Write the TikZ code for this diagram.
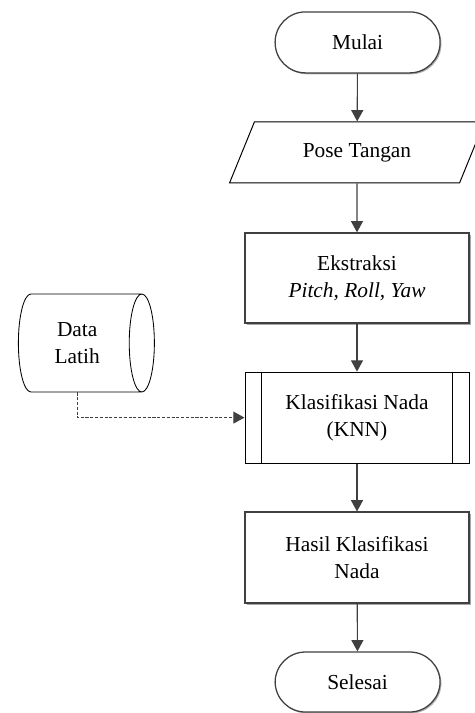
\documentclass[tikz,border=0pt]{standalone}
\usepackage{fontspec}
\setmainfont{Liberation Serif}
\usetikzlibrary{shapes.geometric,arrows.meta,shadows}

\tikzset{
    terminal/.style={draw=black!75, line width=0.9pt, fill=white, rounded corners=0.76cm,
        minimum width=4.125cm, minimum height=1.525cm,
        drop shadow={shadow xshift=1pt, shadow yshift=-1pt, fill=black!30, opacity=1}},
    prosesbox/.style={draw=black!75, line width=0.9pt, fill=white,
        minimum width=5.6cm, minimum height=2.25cm, align=center,
        drop shadow={shadow xshift=1.2pt, shadow yshift=-1.2pt, fill=black!35, opacity=1}},
    iobox/.style={draw, line width=0.7pt, trapezium, trapezium left angle=63,
        trapezium right angle=117, trapezium stretches=true,
        minimum width=6.375cm, minimum height=1.525cm},
    subproses/.style={draw, line width=0.7pt, minimum width=5.6cm,
        minimum height=2.275cm, align=center},
    datastore/.style={draw, line width=0.6pt, cylinder, aspect=0.5,
        minimum width=2.45cm, minimum height=3.4cm, align=center},
    panah/.style={draw=black!75, line width=0.8pt, -{Triangle[length=8pt,width=8.5pt]}},
    panahputus/.style={panah, line width=0.9pt, dash pattern=on 2.2pt off 1.2pt}
}

\begin{document}
\begin{tikzpicture}[font=\fontsize{15.2}{19}\selectfont]
    \useasboundingbox (0,0) rectangle (11.875,-17.825);

    \node[terminal] (mulai) at (8.94,-1.06) {Mulai};
    \node[iobox] (pose) at (8.925,-3.81) {Pose Tangan};
    \node[prosesbox] (ekstraksi) at (8.925,-6.95) {Ekstraksi\\\textit{Pitch, Roll, Yaw}};
    \node[subproses] (klasifikasi) at (8.925,-10.44) {Klasifikasi Nada\\(KNN)};
    \draw[line width=0.7pt] ([xshift=0.425cm]klasifikasi.north west) -- ([xshift=0.425cm]klasifikasi.south west);
    \draw[line width=0.7pt] ([xshift=-0.425cm]klasifikasi.north east) -- ([xshift=-0.425cm]klasifikasi.south east);
    \node[prosesbox, minimum height=2.275cm] (hasil) at (8.925,-13.94) {Hasil Klasifikasi\\Nada};
    \node[terminal, minimum height=1.5cm] (selesai) at (8.94,-17.05) {Selesai};

    \node[datastore] (data) at (1.93,-8.575) {Data\\Latih};

    \draw[panah] (mulai) -- (pose);
    \draw[panah] (pose) -- (ekstraksi);
    \draw[panah] (ekstraksi) -- (klasifikasi);
    \draw[panah] (klasifikasi) -- (hasil);
    \draw[panah] (hasil) -- (selesai);
    \draw[panahputus] (data.south) |- (klasifikasi.west);
\end{tikzpicture}
\end{document}
